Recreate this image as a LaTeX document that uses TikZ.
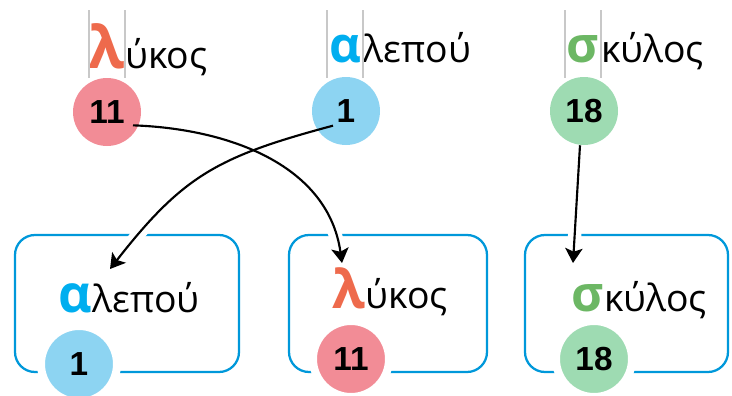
\documentclass[tikz,border=0pt]{standalone}
\usepackage{fontspec}
\setmainfont{Open Sans}
\newfontfamily\numfont{Liberation Sans}
\usetikzlibrary{arrows.meta, positioning}

\definecolor{lykosred}{HTML}{EE6A4C}
\definecolor{lykosfill}{HTML}{F28C96}
\definecolor{alepoublue}{HTML}{00AEEF}
\definecolor{alepoufill}{HTML}{8DD4F2}
\definecolor{skylosgreen}{HTML}{6CB764}
\definecolor{skylosfill}{HTML}{9EDBB2}
\definecolor{boxblue}{HTML}{0098DA}
\definecolor{guidegrey}{HTML}{C8C8C8}

\tikzset{
    word/.style={inner sep=0pt, font=\fontsize{28}{30}\selectfont},
    initial/.style={inner sep=0pt, font=\fontsize{#1}{#1}\selectfont\bfseries},
    initial/.default=37,
    guided/.style={initial=#1, minimum width=27pt},
    guided/.default=37,
    num/.style={circle, inner sep=0pt, minimum size=51pt, font=\numfont\fontsize{25}{28}\selectfont\bfseries},
    ringed/.style={draw=white, line width=6pt, minimum size=57pt},
    wordbox/.style={draw=boxblue, line width=1.7pt, rounded corners=15pt},
    guide/.style={draw=guidegrey, line width=1.5pt},
    link/.style={-{Stealth[length=11pt, width=13pt, inset=2.5pt]}, line width=1.6pt},
    cut/.style={white, line width=10pt, shorten <=16pt}
}

\begin{document}
\begin{tikzpicture}[x=0.75pt, y=-0.75pt]
    \useasboundingbox (0,0) rectangle (732,396);

    % Words in the top row
    \node[guided=44, text=lykosred, anchor=base] (lykosL) at (107,68) {λ};
    \node[word, anchor=base west] (lykos) at (lykosL.base east) {ύκος};
    \node[guided, text=alepoublue, anchor=base] (alepouL) at (345,62) {α};
    \node[word, anchor=base west] (alepou) at (alepouL.base east) {λεπού};
    \node[guided, text=skylosgreen, anchor=base] (skylosL) at (583,62) {σ};
    \node[word, anchor=base west] (skylos) at (skylosL.base east) {κύλος};

    % Guide lines round the first letters
    \draw[guide] (lykosL.west |- 0,10) -- (lykosL.west |- 0,78);
    \draw[guide] (lykosL.east |- 0,10) -- (lykosL.east |- 0,78);
    \draw[guide] (alepouL.west |- 0,10) -- (alepouL.west |- 0,78);
    \draw[guide] (alepouL.east |- 0,10) -- (alepouL.east |- 0,78);
    \draw[guide] (skylosL.west |- 0,10) -- (skylosL.west |- 0,78);
    \draw[guide] (skylosL.east |- 0,10) -- (skylosL.east |- 0,78);

    % Numbers in the top row
    \node[num, fill=lykosfill] (top11) at (107,112) {11};
    \node[num, fill=alepoufill] (top1) at (346,111) {1};
    \node[num, fill=skylosfill] (top18) at (584,111) {18};

    % Sorted boxes
    \draw[wordbox] (15,235) rectangle (239,372);
    \draw[wordbox] (289,235) rectangle (487,372);
    \draw[wordbox] (525,235) rectangle (728,372);

    % Arrow ends
    \coordinate (tipA) at (342,263);
    \coordinate (tipB) at (110,269);
    \coordinate (tipC) at (573,263);

    % Gaps where the arrows enter the boxes
    \draw[cut] ([xshift=19.5pt, yshift=-10pt]top11.center) to[out=-2, in=98] (tipA);
    \draw[cut] ([xshift=-9.75pt, yshift=-11pt]top1.center) to[out=195, in=52, looseness=1.15] (tipB);
    \draw[cut, shorten <=4pt] ([xshift=-3pt]top18.south) -- (tipC);

    % Words in the boxes
    \node[initial=39, text=alepoublue, anchor=base] (boxalepouL) at (75,312) {α};
    \node[word, anchor=base west] (boxalepou) at (boxalepouL.base east) {λεπού};
    \node[initial=40, text=lykosred, anchor=base] (boxlykosL) at (349,308) {λ};
    \node[word, anchor=base west] (boxlykos) at (boxlykosL.base east) {ύκος};
    \node[initial, text=skylosgreen, anchor=base] (boxskylosL) at (588,311) {σ};
    \node[word, anchor=base west] (boxskylos) at (boxskylosL.base east) {κύλος};

    % Numbers in the boxes
    \node[num, ringed, fill=alepoufill] (bot1) at (79,364) {1};
    \node[num, ringed, fill=lykosfill] (bot11) at (351,359) {11};
    \node[num, ringed, fill=skylosfill] (bot18) at (594,359) {18};

    % Arrows
    \draw[link] ([xshift=19.5pt, yshift=-10pt]top11.center) to[out=-2, in=98] (tipA);
    \draw[link] ([xshift=-9.75pt, yshift=-11pt]top1.center) to[out=195, in=52, looseness=1.15] (tipB);
    \draw[link] ([xshift=-3pt]top18.south) -- (tipC);

\end{tikzpicture}
\end{document}
